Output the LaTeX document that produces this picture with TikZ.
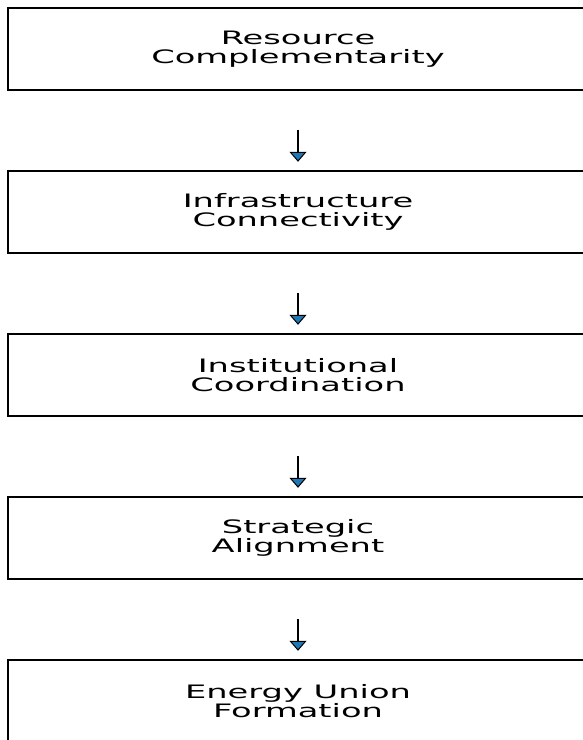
\documentclass[tikz,border=0pt]{standalone}
\usepackage{fontspec}
\newfontfamily\boxfont[FakeStretch=1.82]{DejaVu Sans}
\usetikzlibrary{arrows.meta}
\definecolor{arrowblue}{RGB}{31,119,180}
\tikzset{
  stagebox/.style={rectangle, minimum width=580pt, minimum height=82pt, inner sep=0pt, align=center, font=\boxfont\fontsize{18.5}{18.8}\selectfont, text=black},
  boxline/.style={draw=black, line width=1.5pt},
  flowarrow/.style={draw=black, line width=1.8pt, -{Triangle[width=17pt,length=10pt,fill=arrowblue,line width=1pt]}}
}
\begin{document}
\begin{tikzpicture}[x=1pt,y=-1pt]
\useasboundingbox (0,0) rectangle (582,740);
\fill[white] (0,0) rectangle (582,740);
\node[stagebox] (b1) at (298,49) {Resource\\Complementarity};
\node[stagebox] (b2) at (298,212) {Infrastructure\\Connectivity};
\node[stagebox] (b3) at (298,375) {Institutional\\Coordination};
\node[stagebox] (b4) at (298,538) {Strategic\\Alignment};
\node[stagebox] (b5) at (298,701) {Energy Union\\Formation};
\foreach \b in {b1,b2,b3,b4,b5}{
  \draw[boxline] (\b.north west) rectangle ([xshift=40pt]\b.south east);
}
\draw[flowarrow] ([yshift=-40pt]b1.south) -- ([yshift=9pt]b2.north);
\draw[flowarrow] ([yshift=-40pt]b2.south) -- ([yshift=9pt]b3.north);
\draw[flowarrow] ([yshift=-40pt]b3.south) -- ([yshift=9pt]b4.north);
\draw[flowarrow] ([yshift=-40pt]b4.south) -- ([yshift=9pt]b5.north);
\end{tikzpicture}
\end{document}
